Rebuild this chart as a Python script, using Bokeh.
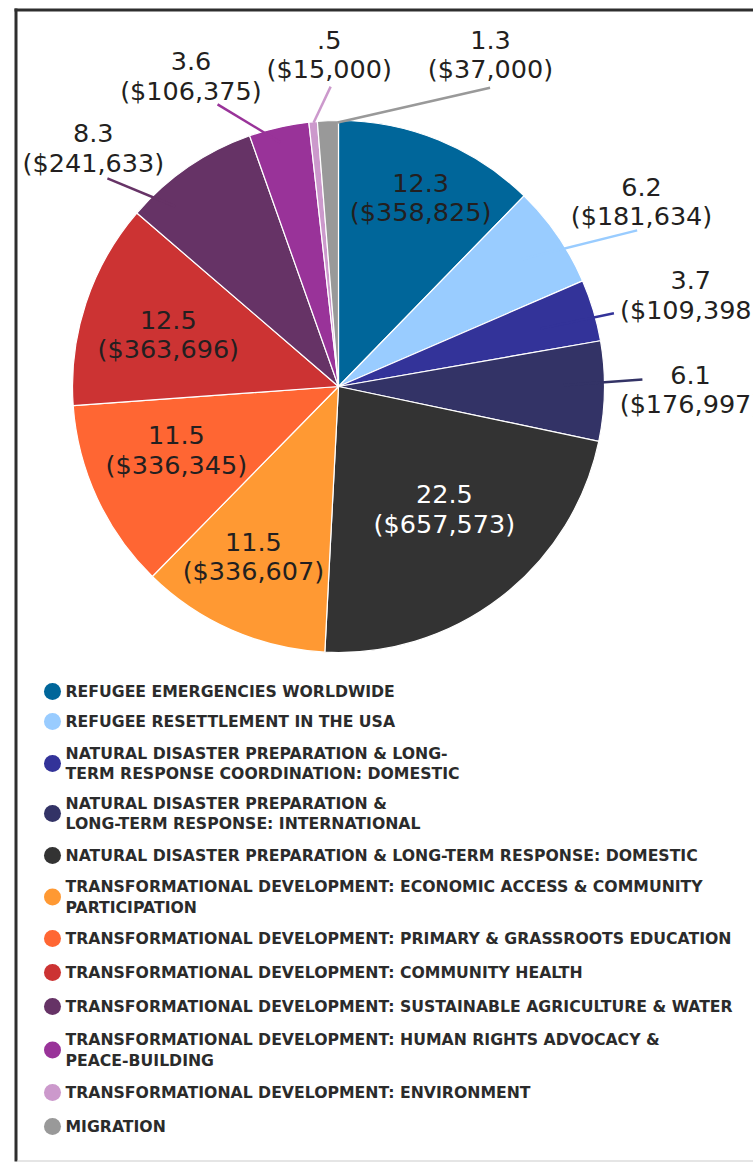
import math
from bokeh.plotting import figure
from bokeh.models import Range1d, ColumnDataSource
from bokeh.core.properties import value
from bokeh.embed import file_html
from bokeh.resources import INLINE

# ---------------- data ----------------
categories = [
    "REFUGEE EMERGENCIES WORLDWIDE",
    "REFUGEE RESETTLEMENT IN THE USA",
    "NATURAL DISASTER PREPARATION & LONG-\nTERM RESPONSE COORDINATION: DOMESTIC",
    "NATURAL DISASTER PREPARATION &\nLONG-TERM RESPONSE: INTERNATIONAL",
    "NATURAL DISASTER PREPARATION & LONG-TERM RESPONSE: DOMESTIC",
    "TRANSFORMATIONAL DEVELOPMENT: ECONOMIC ACCESS & COMMUNITY\nPARTICIPATION",
    "TRANSFORMATIONAL DEVELOPMENT: PRIMARY & GRASSROOTS EDUCATION",
    "TRANSFORMATIONAL DEVELOPMENT: COMMUNITY HEALTH",
    "TRANSFORMATIONAL DEVELOPMENT: SUSTAINABLE AGRICULTURE & WATER",
    "TRANSFORMATIONAL DEVELOPMENT: HUMAN RIGHTS ADVOCACY &\nPEACE-BUILDING",
    "TRANSFORMATIONAL DEVELOPMENT: ENVIRONMENT",
    "MIGRATION",
]
percent_labels = ["12.3", "6.2", "3.7", "6.1", "22.5", "11.5", "11.5", "12.5", "8.3", "3.6", ".5", "1.3"]
dollars = [358825, 181634, 109398, 176997, 657573, 336607, 336345, 363696, 241633, 106375, 15000, 37000]

# ---------------- styles / layout ----------------
colors = ["#00669a", "#99ccff", "#333399", "#333366", "#333333", "#ff9933",
          "#ff6633", "#cc3333", "#663366", "#993399", "#cc99cc", "#999999"]
label_colors = ["#231f20"] * 12
label_colors[4] = "#ffffff"

W, H = 753, 1162
def px(x):  # page x -> data x
    return x
def py(y):  # page y -> data y
    return H - y

CX, CY, R = px(338), py(386), 266

# label block centre: (angle clockwise from 12 o'clock in degrees, distance from centre)
label_polar = [(23.5, 206), (58.6, 355), (75.4, 364), (90.5, 352), (139.2, 162), (206.6, 190),
               (248.7, 174), (287.0, 178), (314.2, 342), (334.6, 344), (358.4, 332), (24.6, 365)]
# leader lines: index -> (angle_in, r_in, angle_out, r_out)
leaders = {
    1: (55.2, 223, 62.4, 337),
    2: (74.0, 210, 75.1, 285),
    3: (89.7, 225, 88.7, 304),
    8: (317.8, 243, 312.0, 311),
    9: (346.6, 251, 336.8, 307),
    10: (354.6, 265, 358.5, 300),
    11: (359.8, 264, 26.9, 335),
}

def polar(a_deg, r):
    a = math.radians(a_deg)
    return CX + r * math.sin(a), CY + r * math.cos(a)

p = figure(width=W, height=H, output_backend="svg", toolbar_location=None,
           x_range=Range1d(0, W), y_range=Range1d(0, H), min_border=0)
p.axis.visible = False
p.grid.visible = False
p.outline_line_color = None
p.background_fill_color = "white"
p.border_fill_color = "white"

# frame
p.segment(x0=[px(15.5)], y0=[py(8)], x1=[px(15.5)], y1=[py(1161)], line_color="#2e2e2e", line_width=3)
p.segment(x0=[px(14)], y0=[py(9.5)], x1=[W + 5], y1=[py(9.5)], line_color="#2e2e2e", line_width=3)
p.segment(x0=[px(17)], y0=[py(1160.5)], x1=[W + 5], y1=[py(1160.5)], line_color="#dcdcdc", line_width=1.5)

# pie
total = float(sum(dollars))
starts, ends, cum = [], [], 0.0
for d in dollars:
    starts.append(math.pi / 2 - 2 * math.pi * cum / total)
    cum += d
    ends.append(math.pi / 2 - 2 * math.pi * cum / total)
src = ColumnDataSource(dict(start=starts, end=ends, color=colors))
p.wedge(x=CX, y=CY, radius=R, start_angle="start", end_angle="end", direction="clock",
        fill_color="color", line_color="white", line_width=1.2, source=src)

# leader lines
for i, (a0, r0, a1, r1) in leaders.items():
    x0, y0 = polar(a0, r0)
    x1, y1 = polar(a1, r1)
    p.line([x0, x1], [y0, y1], line_color=colors[i], line_width=2.5)

# slice labels
lx, ly, lt = [], [], []
for i in range(len(dollars)):
    x, y = polar(*label_polar[i])
    lx.append(x); ly.append(y)
    lt.append(f"{percent_labels[i]}\n(${dollars[i]:,})")
p.text(x=lx, y=ly, text=lt, text_color=label_colors, text_font=value("DejaVu Sans"),
       text_font_size="25.5px", text_align="center", text_baseline="middle", text_line_height=0.99)

# legend
legend_y = [691, 721, 763, 813, 855, 896.5, 938, 972, 1006, 1049.5, 1092, 1126]
p.scatter(x=[px(52)] * 12, y=[py(v) for v in legend_y], size=17, marker="circle",
          fill_color=colors, line_color=None)
p.text(x=[px(65)] * 12, y=[py(v) for v in legend_y], text=categories, text_color="#2b2b2b",
       text_font=value("DejaVu Sans"), text_font_size="15.7px", text_font_style="bold",
       text_align="left", text_baseline="middle", text_line_height=1.1)

open("out.html", "w").write(file_html(p, INLINE))
